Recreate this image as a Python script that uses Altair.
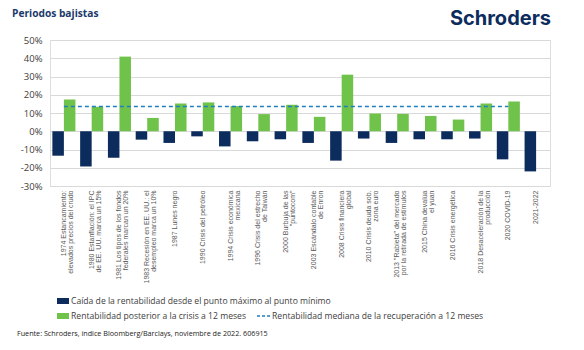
import altair as alt
import pandas as pd

categories = [
    "1974 Estancamiento:\nelevados precios del crudo",
    "1980 Estanflación: el IPC\nde EE. UU. marca un 15%",
    "1981 Los tipos de los fondos\nfederales marcan un 20%",
    "1983 Recesión en EE. UU.: el\ndesempleo marca un 10%",
    "1987 Lunes negro",
    "1990 Crisis del petróleo",
    "1994 Crisis económica\nmexicana",
    "1996 Crisis del estrecho\nde Taiwán",
    "2000 Burbuja de las\n\"puntocom\"",
    "2003 Escándalo contable\nde Enron",
    "2008 Crisis financiera\nglobal",
    "2010 Crisis deuda sob.\nzona euro",
    "2013 \"Rabieta\" del mercado\npor la retirada de estímulos",
    "2015 China devalúa\nel yuan",
    "2016 Crisis energética",
    "2018 Desaceleración de la\nproducción",
    "2020 COVID-19",
    "2021-2022",
]
drawdown = [-13.4, -19.3, -14.5, -4.6, -6.4, -2.8, -8.3, -5.5, -4.4, -6.4,
            -16.1, -4.0, -6.4, -4.4, -4.4, -4.0, -15.4, -22.0]
recovery = [17.4, 13.4, 40.9, 7.3, 15.2, 15.8, 13.8, 9.4, 14.5, 7.9,
            31.0, 9.7, 9.5, 8.4, 6.4, 15.2, 16.3, None]
median_recovery = 13.6
median_categories = categories[:17]
y_ticks = [-30, -20, -10, 0, 10, 20, 30, 40, 50]

series_names = ["neg", "pos"]
legend_labels = [
    "Caída de la rentabilidad desde el punto máximo al punto mínimo",
    "Rentabilidad posterior a la crisis a 12 meses",
    "Rentabilidad mediana de la recuperación a 12 meses",
]
title_text = "Periodos bajistas"
logo_text = "Schroders"
source_text = "Fuente: Schroders, índice Bloomberg/Barclays, noviembre de 2022. 606915"

NAVY = "#0c2c5d"
GREEN = "#6fc24a"
LINE = "#1f7fbf"
GRID = "#d9d9d9"
TEXT = "#404040"
FONT = "Open Sans"

rows = []
for c, d, r in zip(categories, drawdown, recovery):
    rows.append({"cat": c, "series": "neg", "value": d})
    if r is not None:
        rows.append({"cat": c, "series": "pos", "value": r})
df = pd.DataFrame(rows)
med_df = pd.DataFrame({"cat": median_categories, "value": [median_recovery] * len(median_categories)})

x_axis = alt.Axis(
    title=None, labelAngle=270, labelFont="Liberation Sans",
    labelFontSize=7, labelColor="#595959", domain=False, ticks=False,
    labelPadding=4, labelLimit=0, labelOverlap=False, labelLineHeight=7,
    labelExpr="split(datum.label, '\\n')",
)
y_axis = alt.Axis(
    title=None, values=y_ticks, labelExpr="datum.value + '%'",
    labelFont=FONT, labelFontSize=9.5, labelColor=TEXT, domain=False,
    ticks=False, labelPadding=8, gridColor=GRID, gridWidth=1,
    labelOverlap=False,
)
x_scale = alt.Scale(paddingInner=0.17, paddingOuter=0.085)
y_scale = alt.Scale(domain=[-30, 50], nice=False)

bars = alt.Chart(df).mark_bar().encode(
    x=alt.X("cat:N", sort=categories, scale=x_scale, axis=x_axis),
    xOffset=alt.XOffset("series:N", scale=alt.Scale(domain=series_names, paddingInner=0, paddingOuter=0)),
    y=alt.Y("value:Q", scale=y_scale, axis=y_axis),
    color=alt.Color("series:N", scale=alt.Scale(domain=series_names, range=[NAVY, GREEN]), legend=None),
)

median_line = alt.Chart(med_df).mark_line(
    color=LINE, strokeDash=[4, 3], strokeWidth=1.5
).encode(
    x=alt.X("cat:N", sort=categories, scale=x_scale, axis=x_axis),
    y=alt.Y("value:Q", scale=y_scale, axis=y_axis),
)

one = pd.DataFrame({"t": [0]})

title = alt.Chart(one).mark_text(
    text=title_text, font=FONT, fontWeight="bold", fontSize=10.2, color="#1b3a6a",
    align="left", baseline="middle",
).encode(x=alt.value(-38), y=alt.value(-26))

logo = alt.Chart(one).mark_text(
    text=logo_text, font="Inter", fontWeight="bold", fontSize=20, color=NAVY,
    align="right", baseline="middle",
).encode(x=alt.value(501), y=alt.value(-21))

sq1 = alt.Chart(one).mark_rect(color=NAVY).encode(
    x=alt.value(7), x2=alt.value(19), y=alt.value(258), y2=alt.value(264))
sq2 = alt.Chart(one).mark_rect(color=GREEN).encode(
    x=alt.value(7), x2=alt.value(19), y=alt.value(273), y2=alt.value(279))
leg1 = alt.Chart(one).mark_text(
    text=legend_labels[0], font=FONT, fontSize=8.6, color=TEXT, align="left", baseline="middle"
).encode(x=alt.value(21), y=alt.value(261))
leg2 = alt.Chart(one).mark_text(
    text=legend_labels[1], font=FONT, fontSize=8.6, color=TEXT, align="left", baseline="middle"
).encode(x=alt.value(21), y=alt.value(276))
dash = alt.Chart(one).mark_rule(color=LINE, strokeDash=[3, 2], strokeWidth=1.3).encode(
    x=alt.value(207), x2=alt.value(220), y=alt.value(276))
leg3 = alt.Chart(one).mark_text(
    text=legend_labels[2], font=FONT, fontSize=8.6, color=TEXT, align="left", baseline="middle"
).encode(x=alt.value(222), y=alt.value(276))
source = alt.Chart(one).mark_text(
    text=source_text, font=FONT, fontSize=7.2, color="#222222", align="left", baseline="middle"
).encode(x=alt.value(-33), y=alt.value(294))

chart = alt.layer(
    bars, median_line, title, logo, sq1, sq2, leg1, leg2, dash, leg3, source
).properties(
    width=500, height=146,
    autosize=alt.AutoSizeParams(type="none"),
    padding={"left": 50, "top": 40, "right": 34, "bottom": 164},
).configure_view(stroke=None).configure(background="white")

chart.save("out.html", embed_options={"renderer": "svg", "actions": False})
